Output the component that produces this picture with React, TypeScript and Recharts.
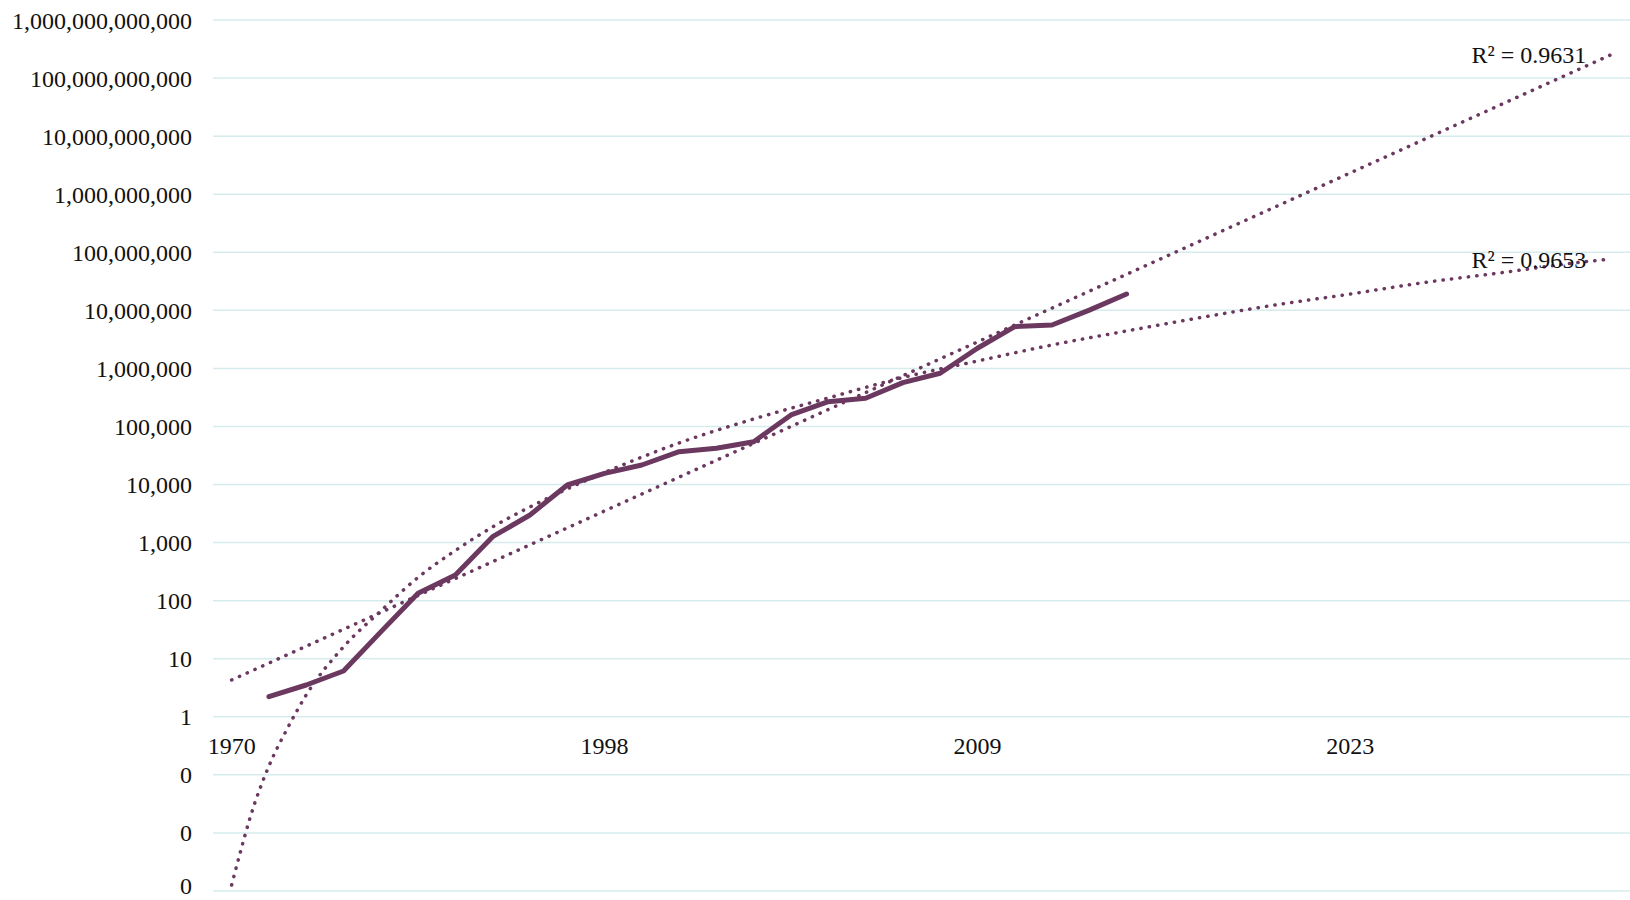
import React from "react";
import {
  ComposedChart,
  Line,
  XAxis,
  YAxis,
  CartesianGrid,
  ReferenceDot,
} from "recharts";

// Category positions 0..37; only every 10th is labelled
const yearLabels = ["1970", "1998", "2009", "2023"];
const yearLabelIdx = [0, 10, 20, 30];

// Observed series, categories 1..24
const observed = [
  2.22, 3.53, 6.15, 29, 134, 277, 1265, 2990, 9820, 15600, 21700, 36800,
  42100, 54700, 158000, 267000, 306000, 568000, 824000, 2.22e6, 5.23e6,
  5.6e6, 1.01e7, 1.91e7,
];

// Exponential trendline (straight on log axis), R² = 0.9631
const expIdx = [0, 37];
const expValues = [4.3, 2.54e11];

// Power trendline, R² = 0.9653
const powIdx = [
  0, 0.25, 0.5, 1, 1.5, 2, 3, 4, 5, 6, 7, 8, 9, 10, 12, 14, 16, 18, 20, 22,
  24, 26, 28, 30, 32, 34, 36, 37,
];
const powValues = [
  0.00127, 0.0051, 0.0188, 0.142, 0.64, 2.38, 16, 66.5, 252, 731, 1860, 4110,
  8390, 16100, 52000, 134600, 310000, 698000, 1.34e6, 2.53e6, 4.41e6, 7.53e6,
  1.24e7, 1.91e7, 3.02e7, 4.4e7, 6.54e7, 7.66e7,
];

const yTicks = [
  0.001, 0.01, 0.1, 1, 10, 100, 1000, 1e4, 1e5, 1e6, 1e7, 1e8, 1e9, 1e10,
  1e11, 1e12,
];

const PURPLE = "#6b3860";
const TEXT = "#111111";
const FONT = '"Liberation Serif", "Times New Roman", serif';

const observedRows = observed.map((v, k) => ({ i: k + 1, v }));
const expRows = expIdx.map((i, k) => ({ i, v: expValues[k] }));
const powRows = powIdx.map((i, k) => ({ i, v: powValues[k] }));

const fmt = (v: number) =>
  Number(v).toLocaleString("en-US", { maximumFractionDigits: 0 });

// y tick: keep the lowest label inside the picture
function YTick(props: any) {
  const { x, y, payload } = props;
  return (
    <text
      x={x}
      y={Math.min(y, 885)}
      dy="0.355em"
      textAnchor="end"
      fill={TEXT}
      fontSize={24}
      fontFamily={FONT}
    >
      {fmt(payload.value)}
    </text>
  );
}

export default function App() {
  return (
    <div
      style={{
        position: "absolute",
        left: 0,
        top: 0,
        width: 1630,
        height: 900,
        background: "#ffffff",
        fontFamily: FONT,
        overflow: "hidden",
      }}
    >
      <ComposedChart
        width={1630}
        height={900}
        margin={{ top: 20, right: 0, bottom: 9, left: 0 }}
      >
        <CartesianGrid
          vertical={false}
          stroke="#d6ecec"
          strokeWidth={1.5}
        />
        <XAxis
          type="number"
          dataKey="i"
          domain={[-0.5, 37.5]}
          allowDataOverflow
          hide
        />
        <YAxis
          type="number"
          scale="log"
          domain={[0.001, 1e12]}
          ticks={yTicks}
          interval={0}
          allowDataOverflow
          width={213}
          axisLine={false}
          tickLine={false}
          tickSize={0}
          tickMargin={21}
          tick={<YTick />}
        />

        {/* Observed values */}
        <Line
          data={observedRows}
          dataKey="v"
          type="linear"
          stroke={PURPLE}
          strokeWidth={5}
          strokeLinecap="round"
          strokeLinejoin="round"
          dot={false}
          activeDot={false}
          isAnimationActive={false}
        />

        {/* Exponential trendline */}
        <Line
          data={expRows}
          dataKey="v"
          type="linear"
          stroke={PURPLE}
          strokeWidth={3.5}
          strokeDasharray="0.3 8.2"
          strokeLinecap="round"
          dot={false}
          activeDot={false}
          isAnimationActive={false}
        />

        {/* Power trendline */}
        <Line
          data={powRows}
          dataKey="v"
          type="monotone"
          stroke={PURPLE}
          strokeWidth={3.5}
          strokeDasharray="0.3 8.2"
          strokeLinecap="round"
          dot={false}
          activeDot={false}
          isAnimationActive={false}
        />

        {/* Category labels sit on the y = 1 line */}
        {yearLabels.map((lab, k) => (
          <ReferenceDot
            key={lab}
            x={yearLabelIdx[k]}
            y={1}
            r={0}
            fill="none"
            stroke="none"
            label={{
              value: lab,
              position: "bottom",
              offset: 20,
              fill: TEXT,
              fontSize: 24,
              fontFamily: FONT,
            }}
          />
        ))}

        {/* R² labels at trendline ends */}
        <ReferenceDot
          x={expIdx[expIdx.length - 1]}
          y={expValues[expValues.length - 1]}
          r={0}
          fill="none"
          stroke="none"
          label={{
            value: "R² = 0.9631",
            position: "left",
            offset: 25,
            fill: TEXT,
            fontSize: 24,
            fontFamily: FONT,
          }}
        />
        <ReferenceDot
          x={powIdx[powIdx.length - 1]}
          y={powValues[powValues.length - 1]}
          r={0}
          fill="none"
          stroke="none"
          label={{
            value: "R² = 0.9653",
            position: "left",
            offset: 25,
            fill: TEXT,
            fontSize: 24,
            fontFamily: FONT,
          }}
        />
      </ComposedChart>
    </div>
  );
}
